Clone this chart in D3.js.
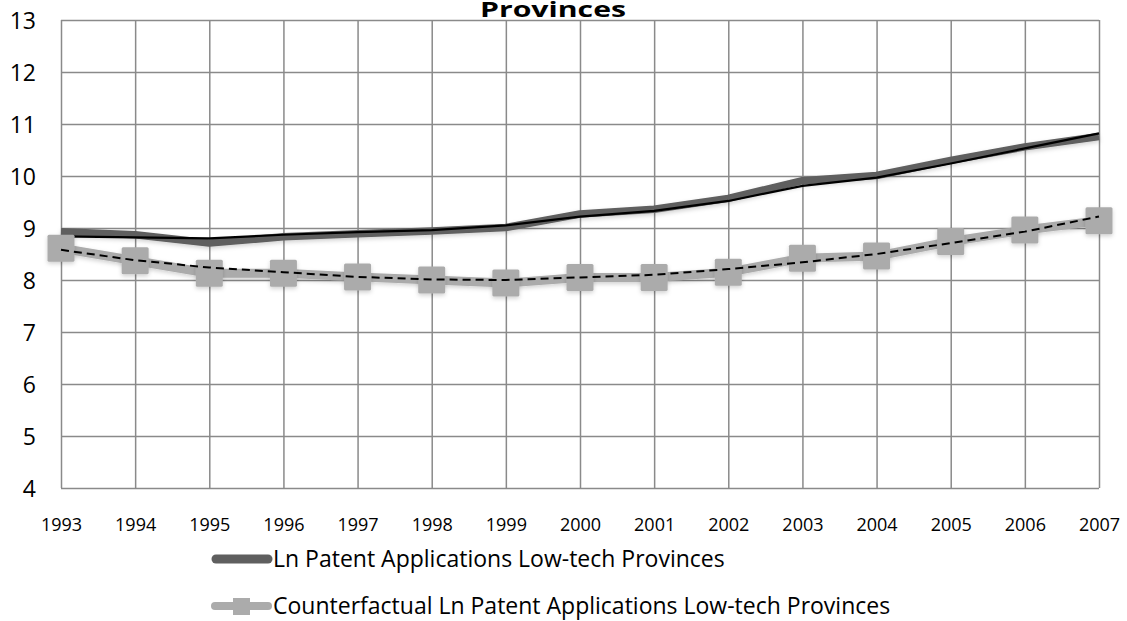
<!DOCTYPE html>
<html>
<head>
<meta charset="utf-8">
<script src="https://cdn.jsdelivr.net/npm/d3@7"></script>
<style>
  html, body { margin: 0; padding: 0; background: #fff; }
  svg { display: block; }
  text { font-family: "Open Sans", "Liberation Sans", sans-serif; fill: #000; }
</style>
</head>
<body>
<svg id="chart" width="1127" height="621"></svg>
<script>
// ---- data ----
const years = ["1993","1994","1995","1996","1997","1998","1999","2000","2001","2002","2003","2004","2005","2006","2007"];
const lnPatent = [8.93, 8.87, 8.71, 8.83, 8.89, 8.94, 9.01, 9.27, 9.36, 9.57, 9.91, 10.01, 10.30, 10.56, 10.76];
const lnPatentTrend = [8.84, 8.82, 8.80, 8.87, 8.92, 8.96, 9.05, 9.22, 9.33, 9.52, 9.81, 9.97, 10.24, 10.53, 10.82];
const counterfactual = [8.61, 8.37, 8.13, 8.13, 8.06, 8.00, 7.94, 8.05, 8.05, 8.15, 8.42, 8.46, 8.74, 8.96, 9.14];
const counterTrend = [8.58, 8.38, 8.24, 8.15, 8.06, 8.01, 8.00, 8.05, 8.10, 8.21, 8.34, 8.50, 8.71, 8.93, 9.22];
const yTicks = [4, 5, 6, 7, 8, 9, 10, 11, 12, 13];
const seriesNames = ["Ln Patent Applications Low-tech Provinces", "Counterfactual Ln Patent Applications Low-tech Provinces"];
const titleText = "Provinces";

// ---- layout ----
const svg = d3.select("#chart");
const L = 61, R = 1099, T = 20, B = 488;
const x = d3.scalePoint().domain(years).range([L, R]);
const y = d3.scaleLinear().domain([4, 13]).range([B, T]);
const gridColor = "#8a8a8a";

const defs = svg.append("defs");
const f = defs.append("filter").attr("id", "shadow").attr("x", "-50%").attr("y", "-50%").attr("width", "200%").attr("height", "200%");
f.append("feDropShadow").attr("dx", 0).attr("dy", 2).attr("stdDeviation", 2).attr("flood-color", "#000").attr("flood-opacity", 0.18);

// Title (first line lies above the view in the reference)
svg.append("text").attr("x", 553).attr("y", 17).attr("text-anchor", "middle")
  .style("font-weight", "bold").style("font-size", "21px")
  .attr("textLength", 146).attr("lengthAdjust", "spacingAndGlyphs").text(titleText);

// Horizontal grid + y labels
const yAxis = d3.axisLeft(y).tickValues(yTicks).tickSize(-(R - L)).tickPadding(25).tickFormat(d3.format("d"));
const gy = svg.append("g").attr("transform", `translate(${L},0)`).call(yAxis);
gy.select(".domain").remove();
gy.selectAll("line").attr("stroke", gridColor).attr("stroke-width", 1.5);
gy.selectAll("text").style("font-size", "23px").attr("dy", "0.35em");

// Vertical grid + x labels
const xAxis = d3.axisBottom(x).tickSize(-(B - T)).tickPadding(30);
const gx = svg.append("g").attr("transform", `translate(0,${B})`).call(xAxis);
gx.select(".domain").remove();
gx.selectAll("line").attr("stroke", gridColor).attr("stroke-width", 1.5);
gx.selectAll("text").style("font-size", "18px");

const line = d3.line().x((d, i) => x(years[i])).y(d => y(d));

// Series 1: dark gray thick
svg.append("path").datum(lnPatent).attr("d", line)
  .attr("fill", "none").attr("stroke", "#5f5f5f").attr("stroke-width", 7.5).attr("stroke-linejoin", "round")
  .attr("filter", "url(#shadow)");
// Trend of series 1: black thin
svg.append("path").datum(lnPatentTrend).attr("d", line)
  .attr("fill", "none").attr("stroke", "#000").attr("stroke-width", 2.2);

// Series 2: light gray with square markers
svg.append("path").datum(counterfactual).attr("d", line)
  .attr("fill", "none").attr("stroke", "#ababab").attr("stroke-width", 9).attr("stroke-linejoin", "round")
  .attr("filter", "url(#shadow)");
const ms = 27;
svg.append("g").selectAll("rect").data(counterfactual).join("rect")
  .attr("x", (d, i) => x(years[i]) - ms / 2).attr("y", d => y(d) - ms / 2)
  .attr("width", ms).attr("height", ms).attr("fill", "#ababab").attr("rx", 1.5)
  .attr("filter", "url(#shadow)");
// Trend of series 2: dashed black
svg.append("path").datum(counterTrend).attr("d", line)
  .attr("fill", "none").attr("stroke", "#000").attr("stroke-width", 2).attr("stroke-dasharray", "8,5");

// Legend
const lg = svg.append("g");
lg.append("line").attr("x1", 216).attr("x2", 268).attr("y1", 559).attr("y2", 559)
  .attr("stroke", "#5f5f5f").attr("stroke-width", 9).attr("stroke-linecap", "round");
lg.append("text").attr("x", 273).attr("y", 559).attr("dy", "0.35em").style("font-size", "23px").text(seriesNames[0]);

lg.append("line").attr("x1", 215).attr("x2", 268).attr("y1", 606).attr("y2", 606)
  .attr("stroke", "#ababab").attr("stroke-width", 8).attr("stroke-linecap", "round");
lg.append("rect").attr("x", 233).attr("y", 598).attr("width", 17).attr("height", 17).attr("fill", "#ababab");
lg.append("text").attr("x", 273).attr("y", 606).attr("dy", "0.35em").style("font-size", "23px").text(seriesNames[1]);
</script>
</body>
</html>
